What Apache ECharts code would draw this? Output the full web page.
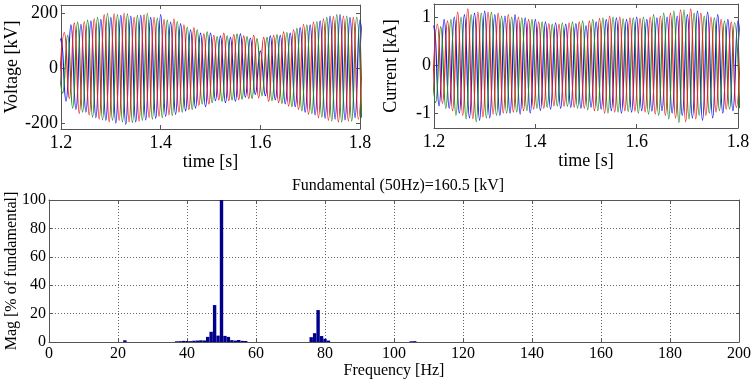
<!DOCTYPE html>
<html><head><meta charset="utf-8">
<script src="https://cdn.jsdelivr.net/npm/echarts@6/dist/echarts.min.js"></script>
<style>html,body{margin:0;padding:0;background:#fff}#c{width:754px;height:381px}</style>
</head><body><div id="c"></div>
<script>
// Extremum (peak) times of phase "blue"; other phases are shifted by 1/3 and 2/3 of a half-cycle
const peakTimes = [1.19,1.20,1.21,1.22,1.23,1.24,1.25,1.26,1.27,1.28,1.29,1.30,1.31,1.32,1.33,1.34,1.35,1.36,1.37,1.38,1.39,1.40,1.41,1.42,1.43,1.44,1.45,1.46,1.47,1.48,1.49,1.50,1.51,1.52,1.53,1.54,1.55,1.56,1.57,1.58,1.59,1.60,1.61,1.62,1.63,1.64,1.65,1.66,1.67,1.68,1.69,1.70,1.71,1.72,1.73,1.74,1.75,1.76,1.77,1.78,1.79,1.80,1.81];
const redShift = 0.00667, greenShift = 0.00333;

// Voltage peaks [kV]
const vBlue = [-95,108,-120,158,-150,160,-160,172,-180,178,
  -190,185,-200,192,-205,190,-195,192,-188,185,
  -182,195,-175,168,-168,162,-155,140,-145,128,
  -140,128,-118,118,-125,112,-120,125,-105,110,
  -95,62,-100,118,-115,120,-130,128,-140,148,
  -160,158,-170,172,-182,190,-185,195,-188,185,
  -180,175,-170];
const vRed = [-60,130,-110,165,-165,170,-170,180,-185,195,
  -195,198,-190,200,-195,185,-192,195,-180,185,
  -175,178,-170,180,-160,158,-150,148,-135,125,
  -130,120,-115,128,-118,122,-115,118,-110,120,
  -108,112,-120,120,-125,132,-138,140,-150,160,
  -168,168,-180,180,-190,188,-195,190,-192,185,
  -185,185];
const vGreen = [85,-90,120,-145,168,-160,175,-178,185,-188,
  200,-190,195,-195,198,-198,192,-190,200,-185,
  182,-180,175,-172,170,-160,150,-150,140,-130,
  132,-125,115,-120,118,-115,125,-112,115,-110,
  108,-100,112,-118,122,-128,130,-140,145,-155,
  158,-165,170,-178,185,-192,195,-195,190,-192,
  185,-180];

// Current peaks [kA]
const iBlue = [-0.75,0.82,-0.85,0.95,-0.9,1.0,-1.0,1.05,-1.1,1.08,
  -1.15,1.12,-1.1,1.05,-1.05,1.02,-1.0,1.05,-1.02,0.98,
  -1.0,0.95,-0.95,0.9,-0.92,0.88,-0.9,0.85,-0.88,0.86,
  -0.9,0.82,-0.88,0.9,-0.92,0.95,-0.95,0.98,-1.0,0.95,
  -0.98,1.0,-0.95,0.95,-0.96,0.98,-0.95,1.0,-1.0,1.02,
  -1.05,1.05,-1.1,1.12,-1.15,1.1,-1.1,1.05,-1.0,0.95,
  -0.95,0.92,-0.88];
const iRed = [-0.7,0.85,-0.8,0.92,-0.95,1.1,-1.05,1.17,-1.12,1.1,
  -1.08,1.1,-1.02,1.08,-1.0,1.05,-0.98,1.0,-0.95,0.95,
  -0.92,0.9,-0.9,0.86,-0.85,0.85,-0.86,0.88,-0.88,0.9,
  -0.9,0.92,-0.95,0.97,-1.0,1.02,-0.98,1.0,-0.95,0.98,
  -0.96,0.97,-0.98,1.0,-1.02,1.02,-1.05,1.08,-1.1,1.15,
  -1.18,1.17,-1.12,1.08,-1.05,1.0,-0.98,0.95,-0.92,0.9,
  -0.88,0.85];
const iGreen = [0.6,-0.78,0.8,-0.9,0.95,-1.05,1.0,-1.12,1.05,-1.18,
  1.08,-1.1,1.1,-1.05,1.02,-1.0,1.0,-0.98,0.98,-0.95,
  0.95,-0.9,0.9,-0.88,0.85,-0.85,0.88,-0.86,0.9,-0.9,
  0.92,-0.93,0.95,-0.95,0.98,-1.0,1.0,-0.98,0.96,-0.97,
  0.98,-1.0,1.0,-1.02,1.05,-1.05,1.08,-1.12,1.12,-1.2,
  1.15,-1.12,1.08,-1.05,1.02,-1.0,0.98,-0.95,0.92,-0.92,
  0.88,-0.9];

// FFT spectrum
const fftFreq = [22,37,38,39,40,41,42,43,44,45,46,47,48,49,50,51,52,53,54,55,56,57,76,77,78,79,80,81,105,106];
const fftMag  = [1.2,0.5,0.6,0.8,0.7,0.6,0.9,1.0,1.2,1.1,3.6,7.2,26,4.5,100,4.3,3.6,1.3,1.0,1.4,0.8,0.7,3.4,6.2,22.5,4.2,2.3,1.0,0.5,0.6];

const vTicks = [-200,0,200];
const iTicks = [-1,0,1];
const titleText = 'Fundamental (50Hz)=160.5 [kV]';

const FONT = 'Liberation Serif';
const C_BLUE = '#1414f0', C_GREEN = '#1e8c1e', C_RED = '#f01e1e';
const boxColor = '#555';
const TOP_FS = 18, BOT_FS = 16;

function pairs(ts, vs, shift) { return vs.map((v, k) => [ts[k] + shift, v]); }

function xMain(grid, nameGap) {
  return { type: 'value', gridIndex: grid, min: 1.2, max: 1.8, interval: 0.2,
    name: 'time [s]', nameLocation: 'middle', nameGap: nameGap,
    nameTextStyle: { fontFamily: FONT, fontSize: TOP_FS, color: '#000' },
    axisLine: { show: true, onZero: false, lineStyle: { color: boxColor } },
    axisTick: { show: true, inside: true, length: 4, lineStyle: { color: boxColor } },
    axisLabel: { fontFamily: FONT, fontSize: TOP_FS, color: '#000', margin: 5, formatter: v => v.toFixed(1) },
    splitLine: { show: false } };
}
function mirrorX(grid, min, max, interval) {
  return { type: 'value', gridIndex: grid, position: 'top', min, max, interval,
    axisLine: { show: true, onZero: false, lineStyle: { color: boxColor } },
    axisTick: { show: true, inside: true, length: 4, lineStyle: { color: boxColor } },
    axisLabel: { show: false }, splitLine: { show: false } };
}
function yMain(grid, min, max, ticks, name, nameGap) {
  return { type: 'value', gridIndex: grid, min, max,
    name, nameLocation: 'middle', nameGap,
    nameTextStyle: { fontFamily: FONT, fontSize: TOP_FS, color: '#000' },
    axisLine: { show: true, onZero: false, lineStyle: { color: boxColor } },
    axisTick: { show: true, inside: true, length: 4, customValues: ticks, lineStyle: { color: boxColor } },
    axisLabel: { fontFamily: FONT, fontSize: TOP_FS, color: '#000', margin: 3, customValues: ticks },
    splitLine: { show: false } };
}
function mirrorY(grid, min, max, ticks) {
  return { type: 'value', gridIndex: grid, position: 'right', min, max,
    axisLine: { show: true, onZero: false, lineStyle: { color: boxColor } },
    axisTick: { show: true, inside: true, length: 4, customValues: ticks, lineStyle: { color: boxColor } },
    axisLabel: { show: false, customValues: ticks }, splitLine: { show: false } };
}

const lineBase = { type: 'line', showSymbol: false, smooth: 0.5, animation: false, clip: true };
function wave(ax, ts, vs, shift, color) {
  return Object.assign({}, lineBase, { xAxisIndex: ax, yAxisIndex: ax, data: pairs(ts, vs, shift),
    itemStyle: { color }, lineStyle: { width: 1.2, color } });
}

const option = {
  animation: false,
  backgroundColor: '#fff',
  grid: [
    { left: 61, top: 5, width: 299, height: 124, outerBoundsMode: 'none' },
    { left: 434, top: 4, width: 304, height: 124, outerBoundsMode: 'none' },
    { left: 49, top: 200, width: 690, height: 142, outerBoundsMode: 'none' }
  ],
  title: { text: titleText, left: 393, top: 173, textAlign: 'center',
    textStyle: { fontFamily: FONT, fontSize: BOT_FS, fontWeight: 'normal', color: '#000' } },
  xAxis: [
    xMain(0, 21),
    xMain(1, 21),
    { type: 'value', gridIndex: 2, min: 0, max: 200, interval: 20,
      name: 'Frequency [Hz]', nameLocation: 'middle', nameGap: 18,
      nameTextStyle: { fontFamily: FONT, fontSize: BOT_FS, color: '#000' },
      axisLine: { show: true, onZero: false, lineStyle: { color: boxColor } },
      axisTick: { show: true, inside: true, length: 3, lineStyle: { color: boxColor } },
      axisLabel: { fontFamily: FONT, fontSize: BOT_FS, color: '#000', margin: 4 },
      splitLine: { show: true, lineStyle: { color: '#666', type: [1, 2], width: 1 } } },
    mirrorX(0, 1.2, 1.8, 0.2),
    mirrorX(1, 1.2, 1.8, 0.2),
    mirrorX(2, 0, 200, 20)
  ],
  yAxis: [
    yMain(0, -221, 230, vTicks, 'Voltage [kV]', 40),
    yMain(1, -1.31, 1.27, iTicks, 'Current [kA]', 34),
    { type: 'value', gridIndex: 2, min: 0, max: 100, interval: 20,
      name: 'Mag [% of fundamental]', nameLocation: 'middle', nameGap: 29, nameMoveOverlap: false,
      nameTextStyle: { fontFamily: FONT, fontSize: BOT_FS, color: '#000' },
      axisLine: { show: true, onZero: false, lineStyle: { color: boxColor } },
      axisTick: { show: true, inside: true, length: 3, lineStyle: { color: boxColor } },
      axisLabel: { fontFamily: FONT, fontSize: BOT_FS, color: '#000', margin: 3 },
      splitLine: { show: true, lineStyle: { color: '#666', type: [1, 2], width: 1 } } },
    mirrorY(0, -221, 230, vTicks),
    mirrorY(1, -1.31, 1.27, iTicks),
    { type: 'value', gridIndex: 2, position: 'right', min: 0, max: 100, interval: 20,
      axisLine: { show: true, onZero: false, lineStyle: { color: boxColor } },
      axisTick: { show: true, inside: true, length: 3, lineStyle: { color: boxColor } },
      axisLabel: { show: false }, splitLine: { show: false } }
  ],
  series: [
    wave(0, peakTimes, vBlue, 0, C_BLUE),
    wave(0, peakTimes, vGreen, greenShift, C_GREEN),
    wave(0, peakTimes, vRed, redShift, C_RED),
    wave(1, peakTimes, iBlue, 0, C_BLUE),
    wave(1, peakTimes, iGreen, greenShift, C_GREEN),
    wave(1, peakTimes, iRed, redShift, C_RED),
    { type: 'bar', xAxisIndex: 2, yAxisIndex: 2, barWidth: 3.4, animation: false,
      itemStyle: { color: '#00008c' },
      data: fftFreq.map((f, k) => [f, fftMag[k]]) }
  ]
};
const chart = echarts.init(document.getElementById('c'), null, { renderer: 'canvas' });
chart.setOption(option);
</script></body></html>
